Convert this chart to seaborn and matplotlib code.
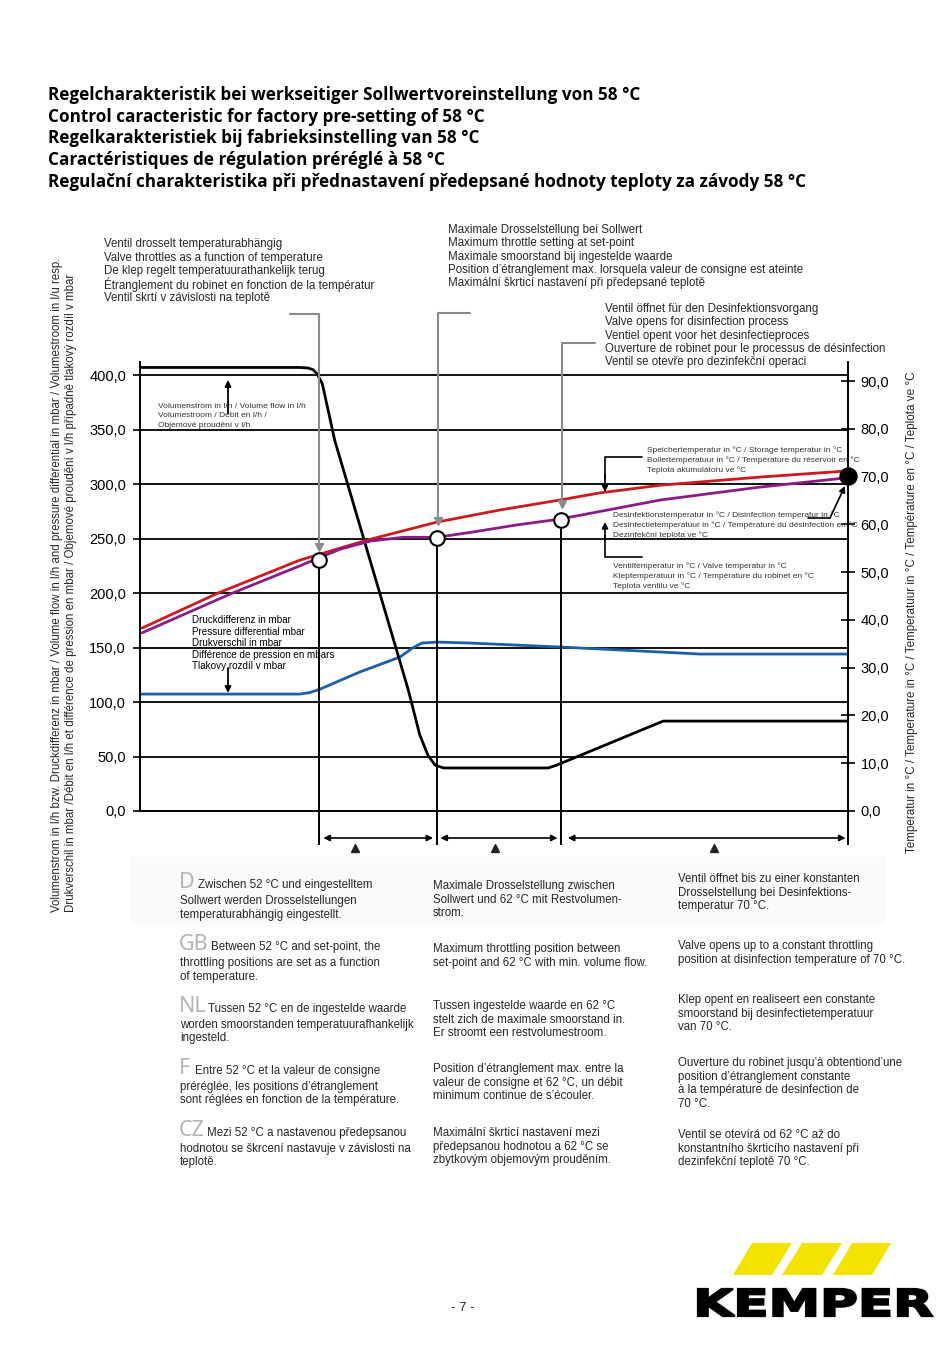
import numpy as np
import matplotlib
matplotlib.use("Agg")
import matplotlib.pyplot as plt
import seaborn as sns
from matplotlib.patches import Polygon, Rectangle, PathPatch
from matplotlib.textpath import TextPath
from matplotlib.font_manager import FontProperties
from matplotlib.transforms import Affine2D
from matplotlib.ticker import FuncFormatter

# -----------------------------
# DATA
# -----------------------------
# x runs along the unlabeled temperature/time axis, one unit per bottom tick
flow_x = [0, 1.54, 1.62, 1.67, 1.71, 1.76, 1.88, 2.59, 2.70, 2.78, 2.85, 2.93, 3.94, 4.02, 5.05, 6.83]
flow_y = [407, 407, 406.5, 405, 401, 392, 340, 111, 70, 51, 42, 39.5, 39.5, 42, 82.5, 82.5]   # l/h

dp_x = [0, 1.54, 1.64, 1.74, 2.12, 2.51, 2.63, 2.72, 2.87, 3.19, 4.05, 4.83, 5.41, 6.83]
dp_y = [107.3, 107.3, 108.7, 111.9, 127.5, 141.3, 149.5, 154.1, 155.0, 154.1, 150.5, 146.8, 144.0, 144.0]  # mbar

tank_x = [0.02, 0.75, 1.54, 2.19, 2.87, 3.47, 4.05, 4.44, 5.02, 5.98, 6.83]
tank_t = [38.3, 45.6, 52.5, 56.7, 60.5, 63.0, 65.1, 66.6, 68.2, 69.9, 71.2]   # degC

valve_x = [0.02, 0.89, 1.54, 1.93, 2.22, 2.54, 2.87, 3.21, 3.64, 4.05, 5.02, 5.98, 6.80]
valve_t = [37.3, 45.6, 51.3, 54.8, 56.5, 57.3, 57.3, 58.4, 59.9, 61.1, 65.1, 67.8, 69.7]

mark_x = [1.73, 2.87, 4.06]      # 52 degC, set-point, 62 degC
mark_t = [52.5, 57.1, 60.9]
disinf_x = [6.83]
disinf_t = [70.2]

left_ticks = [0, 50, 100, 150, 200, 250, 300, 350, 400]
right_ticks = [0, 10, 20, 30, 40, 50, 60, 70, 80, 90]
x_ticks = [0, 1, 2, 3, 4, 5, 6]

range_from = [1.77, 2.90, 4.13]
range_to = [2.83, 4.03, 6.81]
range_mid = [2.08, 3.43, 5.54]

# -----------------------------
# TEXTS
# -----------------------------
title_lines = [
    "Regelcharakteristik bei werkseitiger Sollwertvoreinstellung von 58 °C",
    "Control caracteristic for factory pre-setting of 58 °C",
    "Regelkarakteristiek bij fabrieksinstelling van 58 °C",
    "Caractéristiques de régulation préréglé à 58 °C",
    "Regulační charakteristika při přednastavení předepsané hodnoty teploty za závody 58 °C",
]
note_throttle = [
    "Ventil drosselt temperaturabhängig",
    "Valve throttles as a function of temperature",
    "De klep regelt temperatuurathankelijk terug",
    "Étranglement du robinet en fonction de la températur",
    "Ventil skrtí v závislosti na teplotě",
]
note_max = [
    "Maximale Drosselstellung bei Sollwert",
    "Maximum throttle setting at set-point",
    "Maximale smoorstand bij ingestelde waarde",
    "Position d’étranglement max. lorsquela valeur de consigne est ateinte",
    "Maximální škrticí nastavení při předepsané teplotě",
]
note_open = [
    "Ventil öffnet für den Desinfektionsvorgang",
    "Valve opens for disinfection process",
    "Ventiel opent voor het desinfectieproces",
    "Ouverture de robinet pour le processus de désinfection",
    "Ventil se otevře pro dezinfekční operaci",
]
lbl_flow = ["Volumenstrom in l/h / Volume flow in l/h",
            "Volumestroom / Débit en l/h /",
            "Objemové proudění v l/h"]
lbl_dp = ["Druckdifferenz in mbar", "Pressure differential mbar", "Drukverschil in mbar",
          "Différence de pression en mbars", "Tlakovy rozdíl v mbar"]
lbl_tank = ["Speichertemperatur in °C / Storage temperatur in °C",
            "Boilertemperatuur in °C / Température du réservoir en °C",
            "Teplota akumulátoru ve °C"]
lbl_dis = ["Desinfektionstemperatur in °C / Disinfection temperatur in °C",
           "Desinfectietemperatuur in °C / Température du désinfection en °C",
           "Dezinfekční teplota ve °C"]
lbl_valve = ["Ventiltemperatur in °C / Valve temperatur in °C",
             "Kleptemperatuur in °C / Température du robinet en °C",
             "Teplota ventilu ve °C"]
ylabel_left = [
    "Volumenstrom in l/h bzw. Druckdifferenz in mbar / Volume flow in l/h and pressure differential in mbar / Volumestroom in l/u resp.",
    "Drukverschil in mbar /Débit en l/h et différence de pression en mbar / Objemové proudění v l/h případně tlakový rozdíl v mbar",
]
ylabel_right = "Temperatur in °C / Temperature in °C / Temperatuur in °C / Température en °C / Teplota ve °C"

langs = ["D", "GB", "NL", "F", "CZ"]
col1 = [
    ["Zwischen 52 °C und eingestelltem", "Sollwert werden Drosselstellungen", "temperaturabhängig eingestellt."],
    ["Between 52 °C and set-point, the", "throttling positions are set as a function", "of temperature."],
    ["Tussen 52 °C en de ingestelde waarde", "worden smoorstanden temperatuurafhankelijk", "ingesteld."],
    ["Entre 52 °C et la valeur de consigne", "préréglée, les positions d’étranglement", "sont réglées en fonction de la température."],
    ["Mezi 52 °C a nastavenou předepsanou", "hodnotou se škrcení nastavuje v závislosti na", "teplotě."],
]
col2 = [
    ["Maximale Drosselstellung zwischen", "Sollwert und 62 °C mit Restvolumen-", "strom."],
    ["Maximum throttling position between", "set-point and 62 °C with min. volume flow."],
    ["Tussen ingestelde waarde en 62 °C", "stelt zich de maximale smoorstand in.", "Er stroomt een restvolumestroom."],
    ["Position d’étranglement max. entre la", "valeur de consigne et 62 °C, un débit", "minimum continue de s’écouler."],
    ["Maximální škrticí nastavení mezi", "předepsanou hodnotou a 62 °C se", "zbytkovým objemovým prouděním."],
]
col3 = [
    ["Ventil öffnet bis zu einer konstanten", "Drosselstellung bei Desinfektions-", "temperatur 70 °C."],
    ["Valve opens up to a constant throttling", "position at disinfection temperature of 70 °C."],
    ["Klep opent en realiseert een constante", "smoorstand bij desinfectietemperatuur", "van 70 °C."],
    ["Ouverture du robinet jusqu’à obtentiond’une", "position d’étranglement constante",
     "à la température de desinfection de", "70 °C."],
    ["Ventil se otevírá od 62 °C až do", "konstantního škrticího nastavení při", "dezinfekční teplotě 70 °C."],
]

# -----------------------------
# FIGURE
# -----------------------------
sns.set_style("white")
plt.rcParams['font.family'] = ['Liberation Sans', 'DejaVu Sans']

W, H = 950, 1370
fig = plt.figure(figsize=(9.5, 13.7), dpi=100)
fig.patch.set_facecolor("white")

AX_L, AX_R, AX_T, AX_B = 140, 848, 362, 811
ax = fig.add_axes([AX_L / W, 1 - AX_B / H, (AX_R - AX_L) / W, (AX_B - AX_T) / H])
ax2 = ax.twinx()

XMAX = 6.834
LEFT_MAX = 412
RIGHT_MAX = 94.0

RED = "#cc1a1f"
PURPLE = "#8a1c87"
BLUE = "#1d5ea8"
GRAY = "#8a8a8a"
BODY = 8.3

sns.lineplot(x=dp_x, y=dp_y, ax=ax, color=BLUE, linewidth=2.0, estimator=None, sort=False)
sns.lineplot(x=flow_x, y=flow_y, ax=ax, color="black", linewidth=2.0, estimator=None, sort=False)
sns.lineplot(x=tank_x, y=tank_t, ax=ax2, color=RED, linewidth=2.0, estimator=None, sort=False)
sns.lineplot(x=valve_x, y=valve_t, ax=ax2, color=PURPLE, linewidth=2.0, estimator=None, sort=False)

ax.set_xlim(0, XMAX)
ax.set_ylim(0, LEFT_MAX)
ax2.set_ylim(0, RIGHT_MAX)

fmt = FuncFormatter(lambda v, _: f"{v:.1f}".replace(".", ","))
ax.set_yticks(left_ticks)
ax.yaxis.set_major_formatter(fmt)
ax2.set_yticks(right_ticks)
ax2.yaxis.set_major_formatter(fmt)
ax.set_xticks(x_ticks)

ax.grid(axis="y", color="black", linewidth=1.3)
ax.grid(axis="x", visible=False)
ax.set_axisbelow(True)

ax.tick_params(axis="y", direction="out", length=5, width=1.2, pad=5, labelsize=10.5,
               colors="black")
ax.tick_params(axis="x", direction="out", length=5, width=1.2, labelbottom=False, colors="black")
ax2.tick_params(axis="y", direction="inout", length=10, width=1.2, pad=4, labelsize=10.5,
                colors="black")

for s in ["top", "right"]:
    ax.spines[s].set_visible(False)
for s in ["top", "left", "bottom"]:
    ax2.spines[s].set_visible(False)
for a, s in [(ax, "left"), (ax, "bottom"), (ax2, "right")]:
    a.spines[s].set_color("black")
    a.spines[s].set_linewidth(1.4)
ax.set_xlabel("")
ax.set_ylabel("")
ax2.set_ylabel("")

# vertical markers below the curves and range arrows under the axis
y_low = -7.1
ax2.vlines(mark_x, y_low, mark_t, color="black", linewidth=1.4, clip_on=False, zorder=3)
ax2.vlines([XMAX], y_low, 0, color="black", linewidth=1.4, clip_on=False)
ax2.scatter(mark_x, mark_t, s=110, facecolor="white", edgecolor="black", linewidth=1.5,
            zorder=6, clip_on=False)
ax2.scatter(disinf_x, disinf_t, s=150, color="black", zorder=6, clip_on=False)

for x0, x1 in zip(range_from, range_to):
    ax2.annotate("", xy=(x1, -5.65), xytext=(x0, -5.65), annotation_clip=False,
                 arrowprops=dict(arrowstyle="<|-|>", color="black", lw=1.2,
                                 mutation_scale=9, shrinkA=0, shrinkB=0))
ax2.plot(range_mid, [-7.8] * len(range_mid), linestyle="none", marker="^", ms=6,
         color="#222222", clip_on=False)

# -----------------------------
# PAGE LAYER (pixel coordinates)
# -----------------------------
page = fig.add_axes([0, 0, 1, 1], zorder=10)
page.set_xlim(0, W)
page.set_ylim(H, 0)
page.axis("off")


def put_lines(x, y0, dy, lines, size, **kw):
    for i, s in enumerate(lines):
        page.text(x, y0 + i * dy, s, fontsize=size, va="center", ha="left", **kw)


# title
for i, s in enumerate(title_lines):
    page.text(48, 95 + i * 21.7, s, fontsize=12.3, va="center", ha="left", color="black",
              family=["Open Sans", "DejaVu Sans"], weight="bold")

put_lines(104, 244, 13.5, note_throttle, BODY)
put_lines(448, 230, 13.3, note_max, BODY)
put_lines(605, 309, 13.3, note_open, BODY)

# gray leader lines to the set points
page.plot([290, 319, 319], [314, 314, 542], color=GRAY, lw=1.5)
page.plot([319], [547], marker="v", color=GRAY, ms=6)
page.plot([470, 438, 438], [313, 313, 516], color=GRAY, lw=1.5)
page.plot([438], [521], marker="v", color=GRAY, ms=6)
page.plot([595, 562, 562], [343, 343, 499], color=GRAY, lw=1.5)
page.plot([562], [504], marker="v", color=GRAY, ms=6)

# curve labels
put_lines(158, 406, 9.8, lbl_flow, 6.0, color="#333333")
page.annotate("", xy=(228, 380), xytext=(228, 413),
              arrowprops=dict(arrowstyle="-|>", color="black", lw=1.3, mutation_scale=9,
                              shrinkA=0, shrinkB=0))
put_lines(192, 620, 11.5, lbl_dp, 7.1, color="black")
page.annotate("", xy=(228, 693), xytext=(228, 668),
              arrowprops=dict(arrowstyle="-|>", color="black", lw=1.3, mutation_scale=9,
                              shrinkA=0, shrinkB=0))

put_lines(647, 450, 10, lbl_tank, 6.0, color="#333333")
page.plot([642, 605, 605], [457, 457, 480], color="black", lw=1.2)
page.annotate("", xy=(605, 492), xytext=(605, 475),
              arrowprops=dict(arrowstyle="-|>", color="black", lw=1.2, mutation_scale=9,
                              shrinkA=0, shrinkB=0))

put_lines(613, 515, 10, lbl_dis, 6.0, color="#333333")
page.plot([808, 830], [518, 518], color="black", lw=1.2)
page.annotate("", xy=(845, 486), xytext=(830, 518),
              arrowprops=dict(arrowstyle="-|>", color="black", lw=1.2, mutation_scale=9,
                              shrinkA=0, shrinkB=0))

put_lines(613, 566, 10, lbl_valve, 6.0, color="#333333")
page.plot([642, 605, 605], [557, 557, 535], color="black", lw=1.2)
page.annotate("", xy=(605, 522), xytext=(605, 540),
              arrowprops=dict(arrowstyle="-|>", color="black", lw=1.2, mutation_scale=9,
                              shrinkA=0, shrinkB=0))

# axis titles
page.text(57, 912, ylabel_left[0], rotation=90, rotation_mode="anchor", ha="left",
          va="center", fontsize=8.3)
page.text(71, 912, ylabel_left[1], rotation=90, rotation_mode="anchor", ha="left",
          va="center", fontsize=8.3)
page.text(912, 853, ylabel_right, rotation=90, rotation_mode="anchor", ha="left",
          va="center", fontsize=8.4)

# explanation blocks
page.add_patch(Rectangle((130, 857), 755, 66, color="#fafafa", zorder=-1))
col1_y = [884, 946, 1008, 1070, 1132]
prefix_dx = [18, 31, 28, 15, 27]
for lang, lines, y, dx in zip(langs, col1, col1_y, prefix_dx):
    page.text(179, y + 4, lang, fontsize=15.5, color="#b4b4b4", va="baseline", ha="left",
              family=["Noto Sans", "DejaVu Sans"])
    page.text(180 + dx, y + 4, lines[0], fontsize=BODY, va="baseline", ha="left")
    for j, s in enumerate(lines[1:]):
        page.text(180, y + 16 + j * 13.5 + 4, s, fontsize=BODY, va="baseline", ha="left")

col2_y = [885, 948, 1005, 1068, 1132]
for lines, y in zip(col2, col2_y):
    for j, s in enumerate(lines):
        page.text(433, y + j * 13.7 + 4, s, fontsize=BODY, va="baseline", ha="left")

col3_y = [878, 945, 999, 1062, 1134]
for lines, y in zip(col3, col3_y):
    for j, s in enumerate(lines):
        page.text(678, y + j * 13.7 + 4, s, fontsize=BODY, va="baseline", ha="left")

page.text(463, 1308, "- 7 -", fontsize=9.5, ha="center", va="center")

# logo
bars = [[(752, 1243), (792, 1243), (772, 1275), (733, 1275)],
        [(802, 1243), (842, 1243), (822, 1275), (782, 1275)],
        [(852, 1243), (891, 1243), (872, 1275), (833, 1275)]]
for b in bars:
    page.add_patch(Polygon(b, closed=True, color="#f2e400", lw=0))
tp = TextPath((0, 0), "KEMPER", size=1, prop=FontProperties(family="DejaVu Sans", weight="bold"))
ext = tp.get_extents()
sx = (932 - 698) / ext.width
sy = (1316 - 1289) / ext.height
tr = Affine2D().translate(-ext.x0, -ext.y0).scale(sx, -sy).translate(698, 1316)
page.add_patch(PathPatch(tr.transform_path(tp), facecolor="black", edgecolor="black",
                         lw=1.6, joinstyle="miter"))

fig.savefig("out.png", dpi=100, facecolor="white")
